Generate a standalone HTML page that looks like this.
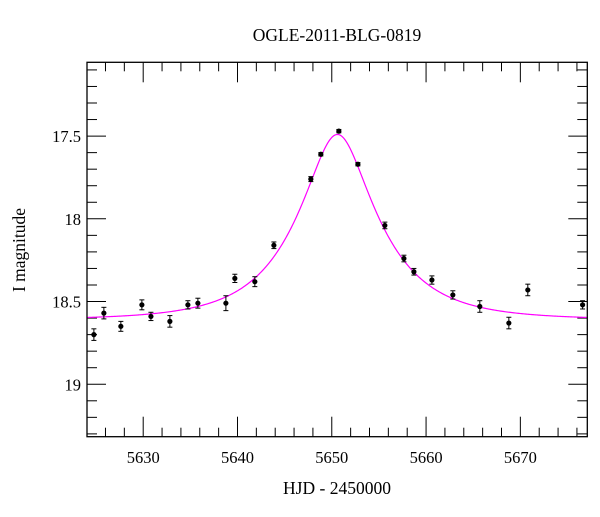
<!DOCTYPE html>
<html><head><meta charset="utf-8"><style>
body{margin:0;background:#fff}
svg text{font-family:"Liberation Serif",serif;fill:#000}
</style></head><body>
<svg id="chart" width="600" height="512" viewBox="0 0 600 512" xmlns="http://www.w3.org/2000/svg">
<text x="337" y="41" font-size="17.5" text-anchor="middle">OGLE-2011-BLG-0819</text>
<text x="337" y="494" font-size="17.5" text-anchor="middle">HJD - 2450000</text>
<text x="25" y="250" font-size="17.5" text-anchor="middle" transform="rotate(-90 25 250)">I magnitude</text>
<g id="ticks"></g><g id="curve"></g><g id="points"></g>
<rect x="87" y="62.3" width="500.3" height="374.4" fill="none" stroke="#000" stroke-width="1.3"/>
</svg>
<script>
const hjd=[5624.77,5625.83,5627.63,5629.86,5630.82,5632.83,5634.74,5635.80,5638.77,5639.72,5641.84,5643.86,5647.78,5648.84,5650.75,5652.77,5655.63,5657.65,5658.71,5660.62,5662.84,5665.70,5668.78,5670.79,5676.6];
const mags=[18.70,18.57,18.65,18.52,18.59,18.62,18.52,18.51,18.51,18.36,18.38,18.16,17.76,17.61,17.47,17.67,18.04,18.24,18.32,18.37,18.46,18.53,18.63,18.43,18.52];
const errs=[0.035,0.035,0.03,0.03,0.025,0.035,0.025,0.03,0.045,0.025,0.03,0.02,0.015,0.01,0.01,0.01,0.02,0.02,0.02,0.025,0.025,0.035,0.035,0.035,0.025];
const xTickLabels=[5630,5640,5650,5660,5670];
const yTickLabels=[17.5,18,18.5,19];
const modelT0=[5650.6];const modelTE=[8.2];const modelU0=[0.375];const modelBase=[18.61];
const X0=87,X1=587.3,Y0=62.3,Y1=436.7,T0=5624.04,T1=5677.1,M0=17.054,M1=19.317;
const xs=t=>X0+(t-T0)/(T1-T0)*(X1-X0);
const ys=m=>Y0+(m-M0)/(M1-M0)*(Y1-Y0);
const NS="http://www.w3.org/2000/svg";
function mk(tag,attrs,parent){const e=document.createElementNS(NS,tag);for(const k in attrs)e.setAttribute(k,attrs[k]);parent.appendChild(e);return e;}
const tg=document.getElementById('ticks');
for(let t=5626;t<=5676;t+=2){
  const major=t%10===0;const L=major?20:9;const x=xs(t);
  const a=mk('line',{x1:x,x2:x,y1:Y1,y2:Y1-L,stroke:'#000','stroke-width':1},tg);
  
  
  const b=mk('line',{x1:x,x2:x,y1:Y0,y2:Y0+L,stroke:'#000','stroke-width':1},tg);
  
  
}
xTickLabels.forEach(v=>{const e=mk('text',{x:xs(v),y:463,'font-size':16.5,'text-anchor':'middle'},tg);e.textContent=v;
  
  });
for(let k=171;k<=193;k++){
  const m=k/10;const major=(k%5===0);const L=major?19:10;const y=ys(m);
  const a=mk('line',{x1:X0,x2:X0+L,y1:y,y2:y,stroke:'#000','stroke-width':1},tg);
  
  
  const b=mk('line',{x1:X1,x2:X1-L,y1:y,y2:y,stroke:'#000','stroke-width':1},tg);
  
  
}
yTickLabels.forEach(v=>{const e=mk('text',{x:81,y:ys(v)+6,'font-size':16.5,'text-anchor':'end'},tg);e.textContent=v;
  
  });
let d='';
for(let t=T0;t<=T1;t+=0.1){
  const u=Math.sqrt(modelU0[0]**2+((t-modelT0[0])/modelTE[0])**2);
  const A=(u*u+2)/(u*Math.sqrt(u*u+4));
  const m=modelBase[0]-2.5*Math.log10(A);
  d+=(d?'L':'M')+xs(t).toFixed(2)+','+ys(m).toFixed(2);
}
const c=mk('path',{d:d,fill:'none',stroke:'#ff00ff','stroke-width':1.2},document.getElementById('curve'));


const pg=document.getElementById('points');
hjd.forEach((t,i)=>{
  const x=xs(t),y=ys(mags[i]),ya=ys(mags[i]-errs[i]),yb=ys(mags[i]+errs[i]);
  const g=mk('g',{},pg);
  
  
  mk('line',{x1:x,x2:x,y1:ya,y2:yb,stroke:'#000','stroke-width':1},g);
  mk('line',{x1:x-2.5,x2:x+2.5,y1:ya,y2:ya,stroke:'#000','stroke-width':1},g);
  mk('line',{x1:x-2.5,x2:x+2.5,y1:yb,y2:yb,stroke:'#000','stroke-width':1},g);
  mk('circle',{cx:x,cy:y,r:2.6,fill:'#000'},g);
});
</script>
</body></html>
